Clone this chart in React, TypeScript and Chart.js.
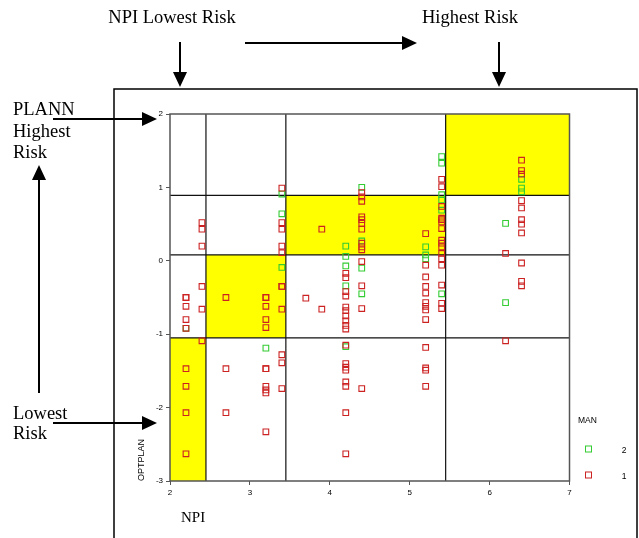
import React, { useEffect, useRef } from "react";
import { Chart, registerables } from "chart.js";

Chart.register(...registerables);

// Axis ticks
const xTicks = [2, 3, 4, 5, 6, 7];
const yTicks = [-3, -2, -1, 0, 1, 2];

// Quadrant boundaries (NPI on x, OPTPLAN on y)
const npiBounds = [2, 2.45, 3.45, 5.45, 7];
const planBounds = [-3, -1.05, 0.08, 0.89, 2];

// Legend categories
const manLabels = ["2", "1"];

// MAN = 1 (red): NPI column values and OPTPLAN values per column
const man1Cols = [2.2, 2.4, 2.7, 3.2, 3.4, 3.7, 3.9, 4.2, 4.4, 5.2, 5.4, 6.2, 6.4];
const man1Vals = [
  [-0.5, -0.5, -0.62, -0.8, -0.92, -1.47, -1.71, -2.07, -2.63],
  [0.52, 0.43, 0.2, -0.35, -0.66, -1.09],
  [-0.5, -1.47, -2.07],
  [-0.5, -0.5, -0.62, -0.8, -0.91, -1.47, -1.47, -1.71, -1.76, -1.8, -2.33],
  [0.99, 0.52, 0.43, 0.2, 0.11, -0.35, -0.35, -0.66, -1.28, -1.39, -1.74],
  [-0.51],
  [0.43, -0.66],
  [-0.17, -0.23, -0.42, -0.48, -0.63, -0.68, -0.75, -0.82, -0.88, -0.93, -1.15, -1.4, -1.45, -1.49, -1.65, -1.71, -2.07, -2.63],
  [0.93, 0.87, 0.81, 0.6, 0.56, 0.51, 0.43, 0.24, 0.19, 0.15, -0.01, -0.34, -0.65, -1.74],
  [0.37, -0.06, -0.22, -0.35, -0.44, -0.57, -0.62, -0.67, -0.8, -1.18, -1.46, -1.49, -1.71],
  [1.11, 1.01, 0.74, 0.58, 0.56, 0.53, 0.44, 0.28, 0.24, 0.19, 0.1, 0.03, -0.06, -0.33, -0.58, -0.65],
  [0.1, -1.09],
  [1.37, 1.23, 1.18, 0.82, 0.72, 0.56, 0.5, 0.38, -0.03, -0.28, -0.34],
];

// MAN = 2 (green)
const man2Cols = [2.2, 3.2, 3.4, 4.2, 4.4, 5.2, 5.4, 6.2, 6.4];
const man2Vals = [
  [-0.92],
  [-1.19],
  [0.91, 0.64, -0.09],
  [0.2, 0.06, -0.07, -0.34, -1.17],
  [1.0, 0.27, -0.1, -0.45],
  [0.19, 0.08, 0.03],
  [1.42, 1.33, 0.9, 0.83, 0.69, -0.45],
  [0.51, -0.57],
  [1.11, 0.99, 0.94],
];

const RED = "#cc2222";
const GREEN = "#33cc33";

const toPoints = (cols: number[], vals: number[][]) =>
  cols.flatMap((c, i) => vals[i].map((v) => ({ x: c, y: v })));

function arrow(ctx: CanvasRenderingContext2D, x1: number, y1: number, x2: number, y2: number) {
  const ang = Math.atan2(y2 - y1, x2 - x1);
  const len = 15;
  const hw = 7;
  const bx = x2 - Math.cos(ang) * len;
  const by = y2 - Math.sin(ang) * len;
  ctx.beginPath();
  ctx.moveTo(x1, y1);
  ctx.lineTo(bx, by);
  ctx.stroke();
  ctx.beginPath();
  ctx.moveTo(x2, y2);
  ctx.lineTo(bx + Math.sin(ang) * hw, by - Math.cos(ang) * hw);
  ctx.lineTo(bx - Math.sin(ang) * hw, by + Math.cos(ang) * hw);
  ctx.closePath();
  ctx.fill();
}

const decor = {
  id: "decor",
  beforeDatasetsDraw(chart: any) {
    const { ctx, chartArea: a, scales } = chart;
    const xs = scales.x;
    const ys = scales.y;
    ctx.save();
    // yellow diagonal cells
    ctx.fillStyle = "#ffff00";
    for (let i = 0; i < 4; i++) {
      const x0 = xs.getPixelForValue(npiBounds[i]);
      const x1 = xs.getPixelForValue(npiBounds[i + 1]);
      const y0 = ys.getPixelForValue(planBounds[i + 1]);
      const y1 = ys.getPixelForValue(planBounds[i]);
      ctx.fillRect(x0, y0, x1 - x0, y1 - y0);
    }
    // cut lines
    ctx.strokeStyle = "#111";
    ctx.lineWidth = 1.2;
    for (let i = 1; i < npiBounds.length - 1; i++) {
      const px = xs.getPixelForValue(npiBounds[i]);
      ctx.beginPath();
      ctx.moveTo(px, a.top);
      ctx.lineTo(px, a.bottom);
      ctx.stroke();
    }
    for (let i = 1; i < planBounds.length - 1; i++) {
      const py = ys.getPixelForValue(planBounds[i]);
      ctx.beginPath();
      ctx.moveTo(a.left, py);
      ctx.lineTo(a.right, py);
      ctx.stroke();
    }
    // plot frame
    ctx.strokeStyle = "#555";
    ctx.lineWidth = 1.5;
    ctx.strokeRect(a.left, a.top, a.right - a.left, a.bottom - a.top);
    ctx.restore();
  },
  afterDraw(chart: any) {
    const { ctx, chartArea: a } = chart;
    ctx.save();
    // outer frame
    ctx.strokeStyle = "#000";
    ctx.lineWidth = 1.5;
    ctx.strokeRect(114, 89, 523, 470);

    // annotation text
    ctx.fillStyle = "#000";
    ctx.font = '18.5px "Liberation Serif", "Times New Roman", serif';
    ctx.textBaseline = "alphabetic";
    ctx.textAlign = "center";
    ctx.fillText("NPI Lowest Risk", 172, 23);
    ctx.fillText("Highest Risk", 470, 23);
    ctx.textAlign = "left";
    ctx.fillText("PLANN", 13, 115);
    ctx.fillText("Highest", 13, 137);
    ctx.fillText("Risk", 13, 158);
    ctx.fillText("Lowest", 13, 419);
    ctx.fillText("Risk", 13, 439);

    // arrows
    ctx.strokeStyle = "#000";
    ctx.lineWidth = 2;
    arrow(ctx, 180, 42, 180, 87);
    arrow(ctx, 499, 42, 499, 87);
    arrow(ctx, 245, 43, 417, 43);
    arrow(ctx, 53, 119, 157, 119);
    arrow(ctx, 39, 393, 39, 165);
    arrow(ctx, 53, 423, 157, 423);

    // x title
    ctx.font = '15px "Liberation Serif", "Times New Roman", serif';
    ctx.fillText("NPI", 181, 522);

    // y title (rotated, anchored at the axis bottom)
    ctx.save();
    ctx.translate(142, a.bottom);
    ctx.rotate(-Math.PI / 2);
    ctx.font = '9px "Liberation Sans", Arial, sans-serif';
    ctx.textAlign = "left";
    ctx.textBaseline = "middle";
    ctx.fillText("OPTPLAN", 0, 0);
    ctx.restore();

    // legend
    ctx.font = '8.5px "Liberation Sans", Arial, sans-serif';
    ctx.textAlign = "left";
    ctx.textBaseline = "middle";
    ctx.fillText("MAN", 578, 421);
    const colors = [GREEN, RED];
    const ly = [449, 475];
    ctx.lineWidth = 1;
    for (let i = 0; i < manLabels.length; i++) {
      ctx.strokeStyle = colors[i];
      ctx.strokeRect(585.5, ly[i] - 3, 6, 6);
      ctx.fillStyle = "#000";
      ctx.textAlign = "center";
      ctx.fillText(manLabels[i], 624, ly[i] + 2);
    }
    ctx.restore();
  },
};

const tickFont = { family: '"Liberation Sans", Arial, sans-serif', size: 8 };

export default function App() {
  const ref = useRef<HTMLCanvasElement>(null);
  useEffect(() => {
    const chart = new Chart(ref.current as HTMLCanvasElement, {
      type: "scatter",
      data: {
        datasets: [
          {
            label: "1",
            data: toPoints(man1Cols, man1Vals),
            pointStyle: "rect",
            pointRadius: 4,
            borderWidth: 1.1,
            borderColor: RED,
            backgroundColor: "rgba(0,0,0,0)",
          },
          {
            label: "2",
            data: toPoints(man2Cols, man2Vals),
            pointStyle: "rect",
            pointRadius: 4,
            borderWidth: 1.1,
            borderColor: GREEN,
            backgroundColor: "rgba(0,0,0,0)",
          },
        ],
      },
      options: {
        responsive: false,
        animation: false,
        devicePixelRatio: 1,
        layout: { padding: { left: 140, right: 69.5, top: 114, bottom: 37 } },
        plugins: { legend: { display: false }, tooltip: { enabled: false } },
        scales: {
          x: {
            type: "linear",
            min: 2,
            max: 7,
            afterFit: (s: any) => {
              s.height = 20;
            },
            afterBuildTicks: (s: any) => {
              s.ticks = xTicks.map((v) => ({ value: v }));
            },
            ticks: { font: tickFont, color: "#000", padding: 3, maxRotation: 0 },
            grid: { drawOnChartArea: false, drawTicks: true, tickLength: 4, color: "#555" },
            border: { display: false },
          },
          y: {
            type: "linear",
            min: -3,
            max: 2,
            afterFit: (s: any) => {
              s.width = 30;
            },
            afterBuildTicks: (s: any) => {
              s.ticks = yTicks.map((v) => ({ value: v }));
            },
            ticks: { font: tickFont, color: "#000", padding: 3 },
            grid: { drawOnChartArea: false, drawTicks: true, tickLength: 4, color: "#555" },
            border: { display: false },
          },
        },
      },
      plugins: [decor],
    });
    return () => chart.destroy();
  }, []);
  return (
    <div style={{ position: "absolute", left: 0, top: 0, width: 639, height: 538, background: "#fff" }}>
      <canvas ref={ref} width={639} height={538} style={{ display: "block" }} />
    </div>
  );
}
